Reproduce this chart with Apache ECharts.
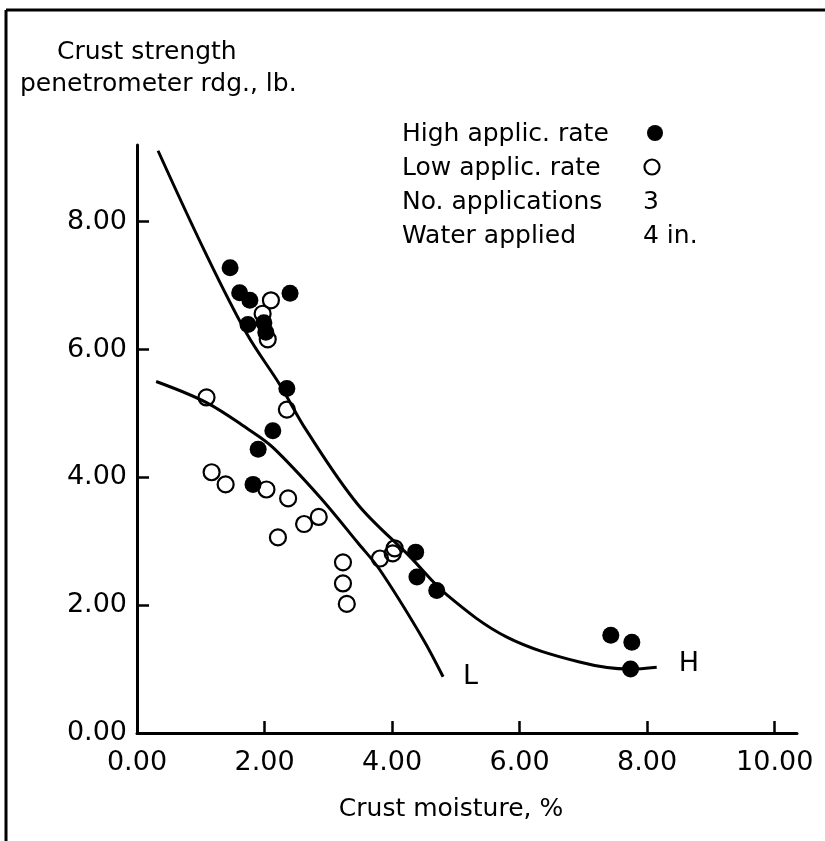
<!DOCTYPE html>
<html>
<head>
<meta charset="utf-8">
<script src="https://cdn.jsdelivr.net/npm/echarts@6/dist/echarts.min.js"></script>
<style>
html,body{margin:0;padding:0;background:#fff;}
#chart{width:825px;height:841px;}
</style>
</head>
<body>
<div id="chart"></div>
<script>
// ---- data ----
const xTicks = [0, 2, 4, 6, 8, 10];
const yTicks = [0, 2, 4, 6, 8];

// High application rate (filled circles): [moisture %, penetrometer lb]
const highRate = [
  [1.46, 7.28], [1.61, 6.89], [1.77, 6.77], [2.40, 6.88], [1.74, 6.39],
  [1.99, 6.42], [2.02, 6.27], [2.35, 5.39], [2.13, 4.73], [1.90, 4.44],
  [1.82, 3.89], [4.37, 2.83], [4.39, 2.44], [4.70, 2.23], [7.43, 1.53],
  [7.76, 1.42], [7.74, 1.00]
];

// Low application rate (open circles)
const lowRate = [
  [2.10, 6.77], [1.97, 6.56], [2.05, 6.16], [1.09, 5.25], [2.35, 5.06],
  [1.17, 4.08], [1.39, 3.89], [2.03, 3.81], [2.37, 3.67], [2.85, 3.38],
  [2.62, 3.27], [2.21, 3.06], [3.23, 2.67], [3.23, 2.34], [3.29, 2.02],
  [3.81, 2.73], [4.01, 2.81], [4.04, 2.89]
];

// Fitted curves
const curveH = [
  [0.33, 9.11], [1.07, 7.52], [1.72, 6.25], [2.24, 5.45], [2.66, 4.73],
  [3.46, 3.58], [4.28, 2.76], [4.86, 2.16], [5.80, 1.50], [6.94, 1.11],
  [7.73, 1.00], [8.15, 1.03]
];
const curveL = [
  [0.30, 5.50], [1.09, 5.17], [1.75, 4.75], [2.13, 4.47], [2.87, 3.69],
  [3.46, 2.98], [3.81, 2.55], [4.48, 1.48], [4.80, 0.88]
];

const curveNames = ['H', 'L'];
const legendLabels = ['High applic. rate', 'Low applic. rate', 'No. applications', 'Water applied'];
const legendValues = ['', '', '3', '4 in.'];

const xTitle = 'Crust moisture, %';
const yTitle = ['Crust strength', 'penetrometer rdg., lb.'];

// ---- chart ----
const FONT = 'DejaVu Sans';
const chart = echarts.init(document.getElementById('chart'), null, {renderer: 'canvas'});

const legendRowY = [147, 181, 215, 249];
const graphics = [
  // frame
  {type: 'line', shape: {x1: 6, y1: 10, x2: 6, y2: 841}, style: {stroke: '#000', lineWidth: 3}},
  {type: 'line', shape: {x1: 6, y1: 10, x2: 825, y2: 10}, style: {stroke: '#000', lineWidth: 3}},
  // y axis title
  {type: 'text', left: 57, top: 40, style: {text: yTitle[0], font: '25px "' + FONT + '"', fill: '#000'}},
  {type: 'text', left: 20, top: 72, style: {text: yTitle[1], font: '25px "' + FONT + '"', fill: '#000'}},
  // x axis title
  {type: 'text', x: 451, y: 809, style: {text: xTitle, font: '25px "' + FONT + '"', fill: '#000', align: 'center', verticalAlign: 'middle'}}
];
legendLabels.forEach((t, i) => {
  graphics.push({type: 'text', x: 402, y: legendRowY[i], style: {text: t, font: '25px "' + FONT + '"', fill: '#000', verticalAlign: 'bottom'}});
  if (legendValues[i]) {
    graphics.push({type: 'text', x: 643, y: legendRowY[i], style: {text: legendValues[i], font: '25px "' + FONT + '"', fill: '#000', verticalAlign: 'bottom'}});
  }
});
graphics.push({type: 'circle', shape: {cx: 655, cy: legendRowY[0] - 14, r: 8}, style: {fill: '#000'}});
graphics.push({type: 'circle', shape: {cx: 652, cy: legendRowY[1] - 14, r: 7.5}, style: {fill: 'none', stroke: '#000', lineWidth: 2.2}});

const option = {
  backgroundColor: '#fff',
  animation: false,
  textStyle: {fontFamily: FONT, color: '#000'},
  grid: {left: 137, right: 28, top: 145, bottom: 108, containLabel: false, outerBoundsMode: 'none'},
  xAxis: {
    type: 'value', min: 0, max: 10.35, interval: 2,
    axisLine: {show: true, onZero: false, lineStyle: {color: '#000', width: 3}},
    axisTick: {show: true, inside: true, length: 12, lineStyle: {color: '#000', width: 2.5}, customValues: xTicks.filter(v => v > 0)},
    axisLabel: {margin: 16, fontSize: 27, color: '#000', fontFamily: FONT, customValues: xTicks, formatter: v => v.toFixed(2)},
    splitLine: {show: false}
  },
  yAxis: {
    type: 'value', min: 0, max: 9.2, interval: 2,
    axisLine: {show: true, onZero: false, lineStyle: {color: '#000', width: 3}},
    axisTick: {show: true, inside: true, length: 12, lineStyle: {color: '#000', width: 2.5}, customValues: yTicks.filter(v => v > 0)},
    axisLabel: {margin: 10, fontSize: 27, color: '#000', fontFamily: FONT, customValues: yTicks, formatter: v => v.toFixed(2)},
    splitLine: {show: false}
  },
  graphic: graphics,
  series: [
    {
      name: curveNames[0], type: 'line', data: curveH, smooth: 0.35, showSymbol: false, symbol: 'none',
      lineStyle: {color: '#000', width: 3}, z: 2,
      endLabel: {show: true, formatter: curveNames[0], fontSize: 27, color: '#000', fontFamily: FONT, distance: 22, offset: [0, -3]}
    },
    {
      name: curveNames[1], type: 'line', data: curveL, smooth: 0.35, showSymbol: false, symbol: 'none',
      lineStyle: {color: '#000', width: 3}, z: 2,
      endLabel: {show: true, formatter: curveNames[1], fontSize: 27, color: '#000', fontFamily: FONT, distance: 20, offset: [0, 0]}
    },
    {
      name: legendLabels[1], type: 'scatter', data: lowRate, symbol: 'circle', symbolSize: 16,
      itemStyle: {color: 'rgba(255,255,255,0)', borderColor: '#000', borderWidth: 2.2, opacity: 1}, z: 3
    },
    {
      name: legendLabels[0], type: 'scatter', data: highRate, symbol: 'circle', symbolSize: 17,
      itemStyle: {color: '#000', opacity: 1}, z: 4
    }
  ]
};
chart.setOption(option);
</script>
</body>
</html>
